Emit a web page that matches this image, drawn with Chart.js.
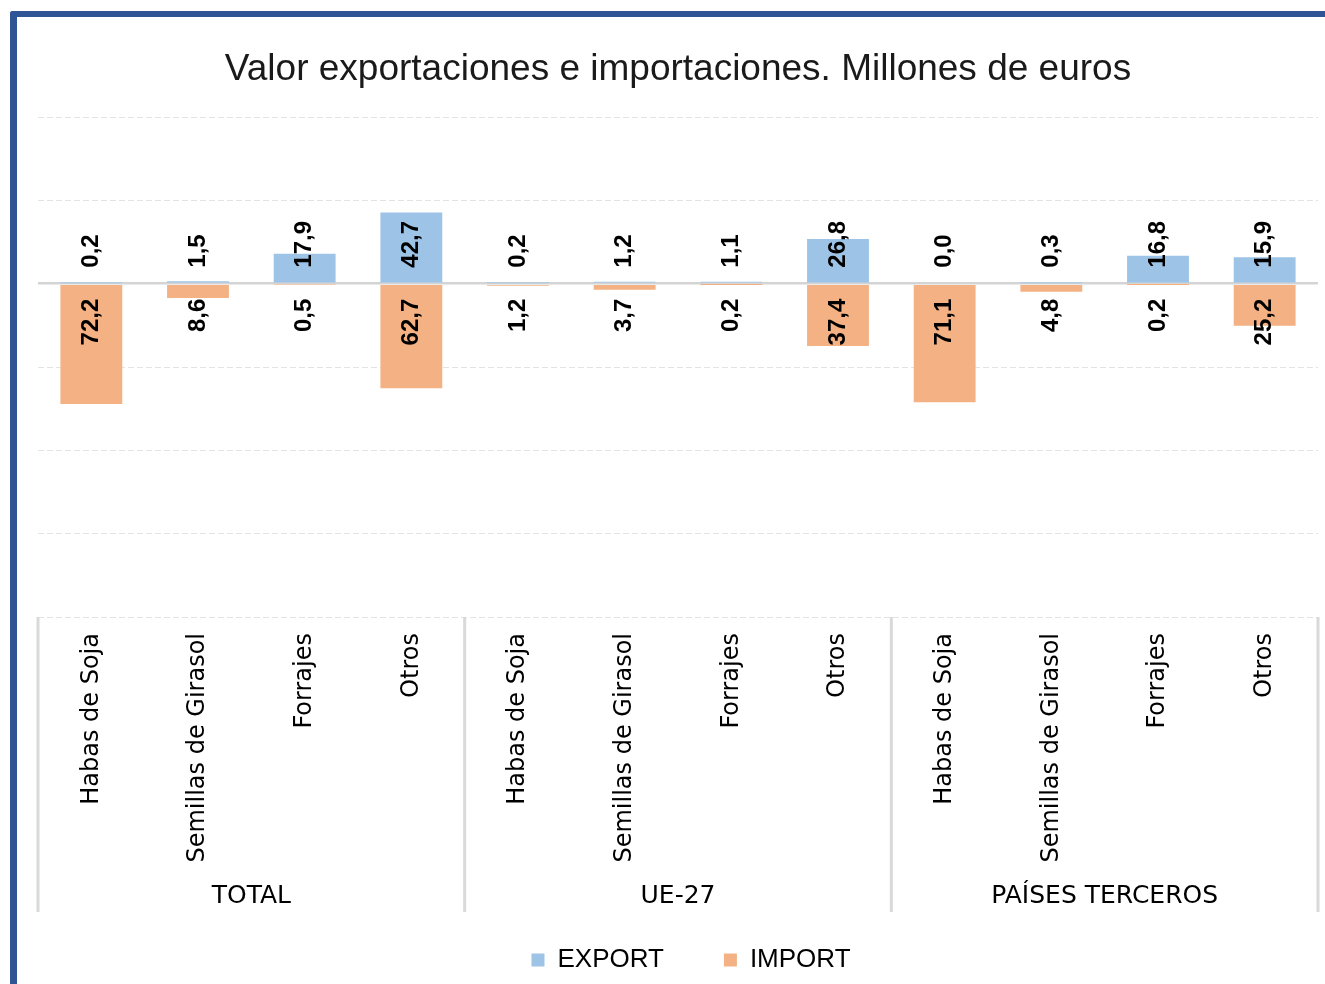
<!DOCTYPE html>
<html>
<head>
<meta charset="utf-8">
<title>Valor exportaciones e importaciones</title>
<script src="https://cdn.jsdelivr.net/npm/chart.js@4/dist/chart.umd.min.js"></script>
<style>
  html, body { margin: 0; padding: 0; background: #fff; width: 1325px; height: 984px; overflow: hidden; }
  #frame {
    position: absolute; left: 10px; top: 11px; width: 1400px; height: 1000px;
    border-left: 7px solid #2F5597; border-top: 6px solid #2F5597;
    border-top-left-radius: 3px; background: #fff;
  }
  #wrap { position: absolute; left: 17px; top: 17px; width: 1366px; height: 967px; }
</style>
</head>
<body>
<div id="frame"></div>
<div id="wrap"><canvas id="chart" width="1366" height="967"></canvas></div>
<script>
const groups = ["TOTAL", "UE-27", "PAÍSES TERCEROS"];
const products = ["Habas de Soja", "Semillas de Girasol", "Forrajes", "Otros"];
const exportValues = [0.2, 1.5, 17.9, 42.7, 0.2, 1.2, 1.1, 26.8, 0.0, 0.3, 16.8, 15.9];
const importValues = [72.2, 8.6, 0.5, 62.7, 1.2, 3.7, 0.2, 37.4, 71.1, 4.8, 0.2, 25.2];
const yMin = -200, yMax = 100, yStep = 50;

const labels = groups.flatMap(() => products);

// rotated value labels, anchored next to the zero line
const valueLabels = {
  id: "valueLabels",
  afterDatasetsDraw(chart) {
    const ctx = chart.ctx;
    const zero = chart.scales.y.getPixelForValue(0);
    ctx.save();
    ctx.font = 'bold 24px "Liberation Sans", Arial, sans-serif';
    ctx.fillStyle = "#000";
    ctx.textBaseline = "middle";
    chart.data.datasets.forEach((ds, di) => {
      const up = di === 0;
      chart.getDatasetMeta(di).data.forEach((bar, i) => {
        const txt = Math.abs(ds.data[i]).toFixed(1).replace(".", ",");
        ctx.save();
        ctx.translate(bar.x, up ? zero - 16 : zero + 15);
        ctx.rotate(-Math.PI / 2);
        ctx.textAlign = up ? "left" : "right";
        ctx.fillText(txt, 0, 0);
        ctx.restore();
      });
    });
    ctx.restore();
  }
};

// second level of the category axis: group names and separators
const groupAxis = {
  id: "groupAxis",
  afterDraw(chart) {
    const ctx = chart.ctx;
    const x = chart.scales.x;
    const area = chart.chartArea;
    const step = (x.right - x.left) / labels.length;
    const per = products.length;
    ctx.save();
    ctx.strokeStyle = "#d9d9d9";
    ctx.lineWidth = 3;
    for (let k = 0; k <= groups.length; k++) {
      const px = x.left + k * per * step;
      ctx.beginPath();
      ctx.moveTo(px, area.bottom);
      ctx.lineTo(px, 895);
      ctx.stroke();
    }
    ctx.font = '25px "DejaVu Sans", Verdana, sans-serif';
    ctx.fillStyle = "#000";
    ctx.textAlign = "center";
    ctx.textBaseline = "middle";
    groups.forEach((g, k) => {
      ctx.fillText(g, x.left + (k + 0.5) * per * step, 879);
    });
    ctx.restore();
  }
};

new Chart(document.getElementById("chart"), {
  type: "bar",
  data: {
    labels,
    datasets: [
      { label: "EXPORT", data: exportValues, backgroundColor: "#9DC3E6" },
      { label: "IMPORT", data: importValues.map(v => -v), backgroundColor: "#F4B183" }
    ]
  },
  options: {
    responsive: false,
    animation: false,
    layout: { padding: { left: 21, right: 39, top: 0, bottom: 1 } },
    datasets: { bar: { barPercentage: 0.58, categoryPercentage: 1 } },
    scales: {
      x: {
        stacked: true,
        grid: { display: false, drawTicks: false },
        border: { display: false },
        ticks: {
          autoSkip: false,
          minRotation: 90,
          maxRotation: 90,
          padding: 16,
          color: "#000",
          font: { family: '"DejaVu Sans", Verdana, sans-serif', size: 24 }
        },
        afterFit(scale) { scale.height = 270; }
      },
      y: {
        stacked: true,
        min: yMin,
        max: yMax,
        ticks: { display: false, stepSize: yStep },
        grid: {
          drawTicks: false,
          color: c => c.tick && c.tick.value === 0 ? "#d4d4d4" : "#e3e3e3",
          lineWidth: c => c.tick && c.tick.value === 0 ? 2.5 : 1
        },
        border: {
          display: false,
          dash: c => c.tick && c.tick.value === 0 ? [] : [6, 3]
        }
      },
      // empty right-hand margin, keeps the legend centred under the whole card
      yRight: {
        type: "linear",
        position: "right",
        grid: { display: false, drawTicks: false },
        border: { display: false },
        ticks: { display: false },
        afterFit(scale) { scale.width = 26; }
      }
    },
    plugins: {
      title: {
        display: true,
        fullSize: false,
        text: "Valor exportaciones e importaciones. Millones de euros",
        color: "#1a1a1a",
        font: { family: '"Liberation Sans", Arial, sans-serif', size: 37, weight: "normal" },
        padding: { top: 31, bottom: 24.6 }
      },
      legend: {
        position: "bottom",
        labels: {
          boxWidth: 13,
          boxHeight: 13,
          padding: 60,
          color: "#000",
          font: { family: '"Liberation Sans", Arial, sans-serif', size: 26 }
        }
      },
      tooltip: { enabled: false }
    }
  },
  plugins: [valueLabels, groupAxis]
});
</script>
</body>
</html>
